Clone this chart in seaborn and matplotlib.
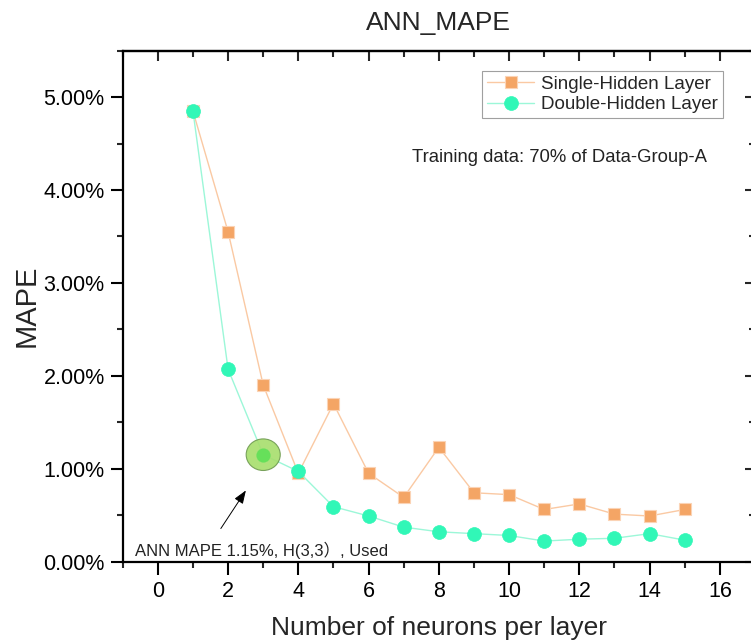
import numpy as np
import pandas as pd
import matplotlib
matplotlib.use("Agg")
import matplotlib.pyplot as plt
from matplotlib.ticker import MultipleLocator, FuncFormatter
from matplotlib.patches import Ellipse
import seaborn as sns

neurons = list(range(1, 16))
single_hidden = [4.85, 3.55, 1.90, 0.95, 1.70, 0.95, 0.69, 1.23, 0.74, 0.72, 0.56, 0.62, 0.51, 0.49, 0.56]
double_hidden = [4.85, 2.07, 1.15, 0.97, 0.59, 0.49, 0.37, 0.32, 0.30, 0.28, 0.22, 0.24, 0.25, 0.30, 0.23]
series_names = ["Single-Hidden Layer", "Double-Hidden Layer"]
title = "ANN_MAPE"
xlabel = "Number of neurons per layer"
ylabel = "MAPE"
note = "Training data: 70% of Data-Group-A"
callout = "ANN MAPE 1.15%, H(3,3\uff09, Used"
callout_x, callout_y = 3, 1.15

sns.set_style("ticks")
plt.rcParams["font.family"] = ["Liberation Sans", "Noto Sans CJK SC", "DejaVu Sans"]

fig = plt.figure(figsize=(7.51, 6.41), dpi=100)
W, H = 751, 641
left, right, bottom, top = 122.7, 755, 561.5, 50.7
ax = fig.add_axes([left / W, 1 - bottom / H, (right - left) / W, (bottom - top) / H])

df_s = pd.DataFrame({"x": neurons, "y": single_hidden})
df_d = pd.DataFrame({"x": neurons, "y": double_hidden})

sns.lineplot(data=df_s, x="x", y="y", ax=ax, color="#FAC9A3", linewidth=1.0,
             marker="s", markersize=8.5, markerfacecolor="#F4A565",
             markeredgecolor="#FBD3B5", markeredgewidth=0.8, label=series_names[0])
sns.lineplot(data=df_d, x="x", y="y", ax=ax, color="#9CF7D8", linewidth=1.0,
             marker="o", markersize=10, markerfacecolor="#31F7B7",
             markeredgecolor="#31F7B7", markeredgewidth=0.5, label=series_names[1])

# highlight
ax.add_patch(Ellipse((callout_x, callout_y), width=0.97, height=0.34, facecolor="#A6DE6C",
                     edgecolor="#6E9A50", linewidth=0.8, alpha=0.9, zorder=4))
ax.plot([callout_x], [callout_y], marker="o", markersize=9, color="#66E05A", zorder=5)

ax.annotate("", xy=(2.55, 0.79), xytext=(1.75, 0.33),
            arrowprops=dict(arrowstyle="-|>,head_length=0.8,head_width=0.3", color="black", lw=0.7))
ax.text(-0.65, 0.12, callout, fontsize=12, color="#222222", ha="left", va="center")
ax.text(412 / W, 1 - 158 / H, note, transform=fig.transFigure, fontsize=13.3,
        color="#222222", ha="left", va="center")

ax.set_xlim(-1, 17)
ax.set_ylim(0, 5.5)
ax.xaxis.set_major_locator(MultipleLocator(2))
ax.xaxis.set_minor_locator(MultipleLocator(1))
ax.yaxis.set_major_locator(MultipleLocator(1))
ax.yaxis.set_minor_locator(MultipleLocator(0.5))
ax.yaxis.set_major_formatter(FuncFormatter(lambda v, p: f"{v:.2f}%"))
ax.tick_params(axis="both", which="major", direction="out", length=9, width=1.5,
               labelsize=15.5, colors="black", pad=4)
ax.tick_params(axis="both", which="minor", direction="out", length=4.5, width=1.5)
ax.tick_params(axis="x", pad=5)

for s in ax.spines.values():
    s.set_linewidth(1.6)
    s.set_color("black")
    s.set_visible(True)

secx = ax.secondary_xaxis("top")
secx.xaxis.set_major_locator(MultipleLocator(2))
secx.xaxis.set_minor_locator(MultipleLocator(1))
secx.tick_params(which="major", direction="in", length=7, width=1.5, labeltop=False)
secx.tick_params(which="minor", direction="in", length=4, width=1.5)
secx.spines["top"].set_linewidth(1.6)
secy = ax.secondary_yaxis("right")
secy.yaxis.set_major_locator(MultipleLocator(1))
secy.yaxis.set_minor_locator(MultipleLocator(0.5))
secy.tick_params(which="major", direction="in", length=7, width=1.5, labelright=False)
secy.tick_params(which="minor", direction="in", length=4, width=1.5)

ax.set_title(title, fontsize=19, pad=15)
ax.set_xlabel(xlabel, fontsize=19, labelpad=10)
ax.set_ylabel(ylabel, fontsize=21, labelpad=2)

leg = ax.legend(loc="upper right", bbox_to_anchor=(723 / W, 1 - 70.7 / H),
                bbox_transform=fig.transFigure, borderaxespad=0, fontsize=13.5,
                frameon=True, fancybox=False, handlelength=2.5, handletextpad=0.4,
                borderpad=0.25, labelspacing=0.2)
leg.get_frame().set_edgecolor("#888888")
leg.get_frame().set_linewidth(0.8)

fig.savefig("out.png", dpi=100)
